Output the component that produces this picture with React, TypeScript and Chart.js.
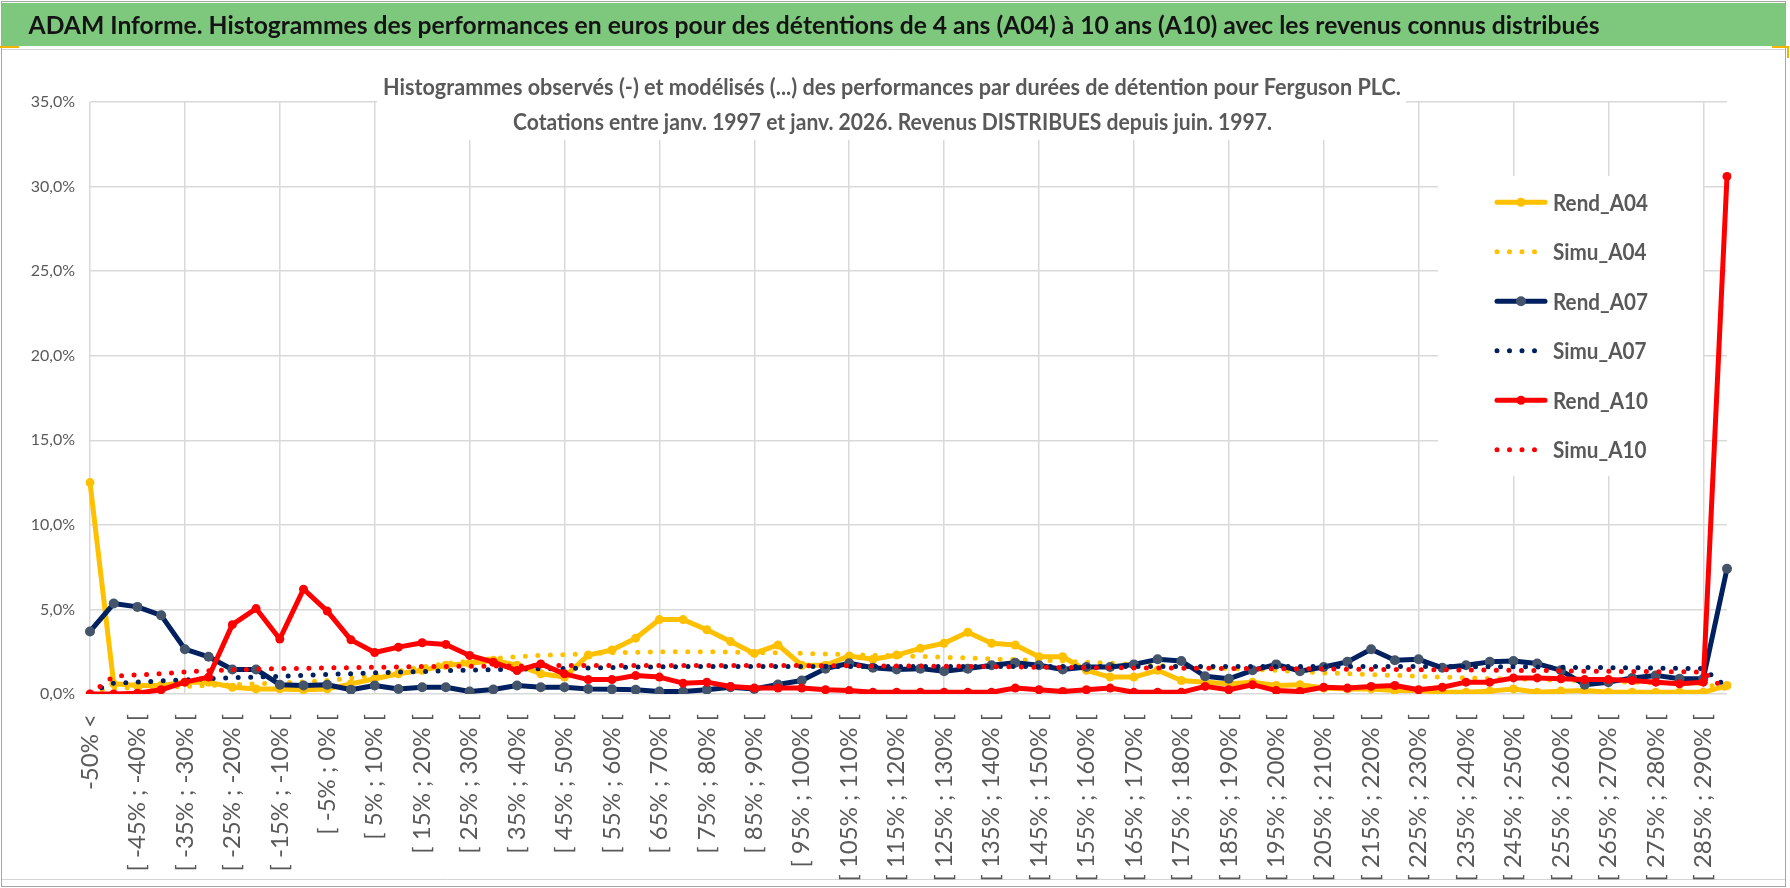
import React, { useEffect, useRef } from 'react';
import { Chart, registerables } from 'chart.js';

Chart.register(...registerables);

const W = 1790;
const H = 888;

const TITLE = 'ADAM Informe. Histogrammes des performances en euros pour des détentions de 4 ans (A04) à 10 ans (A10) avec les revenus connus distribués';
const SUB1 = 'Histogrammes observés (-) et modélisés (...) des performances par durées de détention pour Ferguson PLC.';
const SUB2 = 'Cotations entre janv. 1997 et janv. 2026. Revenus DISTRIBUES depuis juin. 1997.';

const categories: string[] = [
  '-50% <', '[ -50% ; -45% [', '[ -45% ; -40% [', '[ -40% ; -35% [', '[ -35% ; -30% [',
  '[ -30% ; -25% [', '[ -25% ; -20% [', '[ -20% ; -15% [', '[ -15% ; -10% [', '[ -10% ; -5% [',
  '[ -5% ; 0% [', '[ 0% ; 5% [', '[ 5% ; 10% [', '[ 10% ; 15% [', '[ 15% ; 20% [',
  '[ 20% ; 25% [', '[ 25% ; 30% [', '[ 30% ; 35% [', '[ 35% ; 40% [', '[ 40% ; 45% [',
  '[ 45% ; 50% [', '[ 50% ; 55% [', '[ 55% ; 60% [', '[ 60% ; 65% [', '[ 65% ; 70% [',
  '[ 70% ; 75% [', '[ 75% ; 80% [', '[ 80% ; 85% [', '[ 85% ; 90% [', '[ 90% ; 95% [',
  '[ 95% ; 100% [', '[ 100% ; 105% [', '[ 105% ; 110% [', '[ 110% ; 115% [', '[ 115% ; 120% [',
  '[ 120% ; 125% [', '[ 125% ; 130% [', '[ 130% ; 135% [', '[ 135% ; 140% [', '[ 140% ; 145% [',
  '[ 145% ; 150% [', '[ 150% ; 155% [', '[ 155% ; 160% [', '[ 160% ; 165% [', '[ 165% ; 170% [',
  '[ 170% ; 175% [', '[ 175% ; 180% [', '[ 180% ; 185% [', '[ 185% ; 190% [', '[ 190% ; 195% [',
  '[ 195% ; 200% [', '[ 200% ; 205% [', '[ 205% ; 210% [', '[ 210% ; 215% [', '[ 215% ; 220% [',
  '[ 220% ; 225% [', '[ 225% ; 230% [', '[ 230% ; 235% [', '[ 235% ; 240% [', '[ 240% ; 245% [',
  '[ 245% ; 250% [', '[ 250% ; 255% [', '[ 255% ; 260% [', '[ 260% ; 265% [', '[ 265% ; 270% [',
  '[ 270% ; 275% [', '[ 275% ; 280% [', '[ 280% ; 285% [', '[ 285% ; 290% [', '> 290%',
];

const rendA04: number[] = [
  12.5, 0.6, 0.5, 0.5, 0.7, 0.7, 0.4, 0.3, 0.3, 0.25,
  0.3, 0.6, 0.9, 1.2, 1.4, 1.7, 1.8, 2.0, 1.7, 1.2,
  1.0, 2.3, 2.6, 3.3, 4.4, 4.4, 3.8, 3.1, 2.4, 2.9,
  1.7, 1.7, 2.25, 2.05, 2.3, 2.7, 3.0, 3.65, 3.0, 2.9,
  2.2, 2.2, 1.4, 1.0, 1.0, 1.4, 0.8, 0.7, 0.6, 0.7,
  0.5, 0.55, 0.35, 0.3, 0.3, 0.2, 0.2, 0.1, 0.1, 0.17,
  0.3, 0.1, 0.17, 0.2, 0.1, 0.1, 0.1, 0.1, 0.1, 0.5,
];

const simuA04: number[] = [
  0.1, 0.35, 0.35, 0.4, 0.45, 0.5, 0.55, 0.6, 0.65, 0.72,
  0.8, 0.95, 1.1, 1.35, 1.6, 1.8, 1.95, 2.1, 2.2, 2.28,
  2.33, 2.38, 2.43, 2.47, 2.5, 2.5, 2.5, 2.48, 2.45, 2.43,
  2.4, 2.37, 2.33, 2.3, 2.27, 2.22, 2.17, 2.13, 2.08, 2.03,
  2.0, 1.95, 1.88, 1.82, 1.75, 1.68, 1.62, 1.57, 1.52, 1.45,
  1.4, 1.33, 1.25, 1.2, 1.15, 1.1, 1.05, 1.0, 0.95, 0.92,
  0.88, 0.85, 0.8, 0.77, 0.73, 0.7, 0.67, 0.64, 0.6, 0.3,
];

const rendA07: number[] = [
  3.7, 5.35, 5.15, 4.65, 2.65, 2.2, 1.45, 1.45, 0.55, 0.5,
  0.55, 0.25, 0.5, 0.3, 0.4, 0.4, 0.15, 0.27, 0.5, 0.4,
  0.4, 0.3, 0.28, 0.25, 0.15, 0.15, 0.25, 0.4, 0.3, 0.56,
  0.8, 1.5, 1.82, 1.55, 1.45, 1.5, 1.35, 1.5, 1.7, 1.85,
  1.7, 1.45, 1.6, 1.6, 1.75, 2.05, 1.95, 1.05, 0.9, 1.4,
  1.75, 1.35, 1.6, 1.9, 2.65, 2.0, 2.05, 1.55, 1.7, 1.9,
  1.95, 1.8, 1.4, 0.55, 0.7, 0.95, 1.1, 0.9, 0.9, 7.4,
];

const simuA07: number[] = [
  0.1, 0.64, 0.7, 0.78, 0.84, 0.9, 0.96, 1.0, 1.05, 1.1,
  1.16, 1.2, 1.25, 1.29, 1.33, 1.38, 1.41, 1.44, 1.47, 1.49,
  1.51, 1.54, 1.57, 1.59, 1.61, 1.62, 1.62, 1.62, 1.63, 1.63,
  1.63, 1.63, 1.63, 1.63, 1.63, 1.63, 1.63, 1.63, 1.63, 1.63,
  1.63, 1.63, 1.63, 1.63, 1.63, 1.63, 1.63, 1.63, 1.63, 1.63,
  1.63, 1.63, 1.63, 1.63, 1.62, 1.62, 1.62, 1.62, 1.62, 1.61,
  1.61, 1.6, 1.58, 1.57, 1.56, 1.55, 1.53, 1.52, 1.5, 0.4,
];

const rendA10: number[] = [
  0.0, 0.0, 0.05, 0.25, 0.7, 1.0, 4.1, 5.05, 3.25, 6.2,
  4.9, 3.2, 2.45, 2.77, 3.03, 2.93, 2.28, 1.88, 1.39, 1.78,
  1.19, 0.85, 0.85, 1.09, 1.0, 0.64, 0.7, 0.44, 0.35, 0.35,
  0.35, 0.25, 0.2, 0.1, 0.1, 0.1, 0.1, 0.1, 0.1, 0.35,
  0.25, 0.15, 0.25, 0.35, 0.1, 0.1, 0.1, 0.45, 0.25, 0.55,
  0.2, 0.15, 0.4, 0.35, 0.45, 0.5, 0.25, 0.4, 0.7, 0.7,
  0.95, 0.95, 0.9, 0.85, 0.85, 0.8, 0.7, 0.6, 0.7, 30.6,
];

const simuA10: number[] = [
  0.0, 1.05, 1.13, 1.2, 1.3, 1.38, 1.43, 1.47, 1.5, 1.52,
  1.54, 1.56, 1.58, 1.6, 1.62, 1.63, 1.64, 1.65, 1.66, 1.67,
  1.68, 1.68, 1.69, 1.69, 1.69, 1.69, 1.69, 1.69, 1.68, 1.68,
  1.68, 1.67, 1.67, 1.66, 1.66, 1.65, 1.64, 1.63, 1.62, 1.6,
  1.58, 1.57, 1.56, 1.55, 1.54, 1.54, 1.53, 1.52, 1.51, 1.5,
  1.5, 1.49, 1.48, 1.47, 1.46, 1.45, 1.44, 1.43, 1.42, 1.41,
  1.4, 1.39, 1.37, 1.35, 1.34, 1.33, 1.32, 1.31, 1.3, 0.2,
];

const yTicks: number[] = [0, 5, 10, 15, 20, 25, 30, 35];

const YELLOW = '#FFC000';
const NAVY = '#002060';
const NAVY_MARK = '#44546A';
const RED = '#FF0000';
const GRAY_TXT = '#595959';
const GRID = '#d9d9d9';
const DOT_DASH = [0, 12.5];

type Series = { label: string; data: number[]; color: string; dotted: boolean; marker: string; radius: number };

const series: Series[] = [
  { label: 'Rend_A04', data: rendA04, color: YELLOW, dotted: false, marker: YELLOW, radius: 4.5 },
  { label: 'Simu_A04', data: simuA04, color: YELLOW, dotted: true, marker: YELLOW, radius: 0 },
  { label: 'Rend_A07', data: rendA07, color: NAVY, dotted: false, marker: NAVY_MARK, radius: 5 },
  { label: 'Simu_A07', data: simuA07, color: NAVY, dotted: true, marker: NAVY, radius: 0 },
  { label: 'Rend_A10', data: rendA10, color: RED, dotted: false, marker: RED, radius: 4.5 },
  { label: 'Simu_A10', data: simuA10, color: RED, dotted: true, marker: RED, radius: 0 },
];

function measure(ctx: CanvasRenderingContext2D, text: string, font: string): number {
  ctx.save();
  ctx.font = font;
  const w = ctx.measureText(text).width;
  ctx.restore();
  return w;
}

function drawFitted(ctx: CanvasRenderingContext2D, text: string, x: number, y: number, font: string, color: string, sx: number) {
  ctx.save();
  ctx.font = font;
  ctx.fillStyle = color;
  ctx.textAlign = 'left';
  ctx.textBaseline = 'alphabetic';
  ctx.translate(x, y);
  ctx.scale(sx, 1);
  ctx.fillText(text, 0, 0);
  ctx.restore();
}

const decorPlugin = {
  id: 'decor',
  beforeDraw(chart: any) {
    const ctx: CanvasRenderingContext2D = chart.ctx;
    ctx.save();
    ctx.fillStyle = '#ffffff';
    ctx.fillRect(0, 0, W, H);
    ctx.fillStyle = '#7DC87D';
    ctx.fillRect(2, 3, 1783, 43);
    ctx.strokeStyle = '#a6a6a6';
    ctx.lineWidth = 1;
    ctx.strokeRect(1.5, 1.5, 1784, 885);
    ctx.strokeStyle = '#d4d4d4';
    ctx.beginPath();
    ctx.moveTo(2, 49.5); ctx.lineTo(1785, 49.5);
    ctx.moveTo(2, 879.5); ctx.lineTo(1785, 879.5);
    ctx.stroke();
    ctx.strokeStyle = '#F2B400';
    ctx.lineWidth = 2;
    ctx.beginPath();
    ctx.moveTo(0, 47); ctx.lineTo(19, 47);
    ctx.moveTo(1772, 47); ctx.lineTo(1788, 47); ctx.lineTo(1788, 58);
    ctx.stroke();
    ctx.restore();
  },
  beforeDatasetsDraw(chart: any) {
    const ctx: CanvasRenderingContext2D = chart.ctx;
    ctx.save();
    ctx.fillStyle = '#ffffff';
    ctx.fillRect(377, 60, 1029, 80);
    ctx.fillRect(1438, 176, 265, 300);
    ctx.restore();
  },
  afterDraw(chart: any) {
    const ctx: CanvasRenderingContext2D = chart.ctx;
    const titleFont = 'bold 25px Lato';
    drawFitted(ctx, TITLE, 28.5, 33.5, titleFont, '#141414', 1571 / measure(ctx, TITLE, titleFont));

    const subFont = 'bold 23px Lato';
    const w1 = measure(ctx, SUB1, subFont);
    const w2 = measure(ctx, SUB2, subFont);
    drawFitted(ctx, SUB1, 383, 95, subFont, GRAY_TXT, 1018 / w1);
    drawFitted(ctx, SUB2, 513, 130, subFont, GRAY_TXT, 759 / w2);

    const legFont = 'bold 22px Lato';
    const ls = 95 / measure(ctx, 'Rend_A04', legFont);
    series.forEach((s, i) => {
      const base = 210.7 + i * 49.5;
      const ly = base - 8.5;
      ctx.save();
      ctx.strokeStyle = s.color;
      ctx.lineWidth = 5;
      ctx.lineCap = 'round';
      if (s.dotted) {
        ctx.setLineDash(DOT_DASH);
        ctx.beginPath();
        ctx.moveTo(1497, ly);
        ctx.lineTo(1547, ly);
        ctx.stroke();
      } else {
        ctx.beginPath();
        ctx.moveTo(1497, ly);
        ctx.lineTo(1545, ly);
        ctx.stroke();
        ctx.fillStyle = s.marker;
        ctx.beginPath();
        ctx.arc(1521, ly, s.radius, 0, Math.PI * 2);
        ctx.fill();
      }
      ctx.restore();
      drawFitted(ctx, s.label, 1553, base, legFont, GRAY_TXT, ls);
    });
  },
};

export default function App() {
  const ref = useRef<HTMLCanvasElement | null>(null);

  useEffect(() => {
    document.body.style.margin = '0';
    const canvas = ref.current;
    if (!canvas) return;
    const chart = new Chart(canvas, {
      type: 'line',
      data: {
        labels: categories,
        datasets: series.map((s, i) => ({
          label: s.label,
          data: s.data,
          borderColor: s.color,
          backgroundColor: s.color,
          borderWidth: 5,
          borderDash: s.dotted ? DOT_DASH : [],
          borderCapStyle: 'round',
          borderJoinStyle: 'round',
          pointRadius: s.radius,
          pointHoverRadius: s.radius,
          pointBackgroundColor: s.marker,
          pointBorderColor: s.marker,
          pointBorderWidth: 0,
          tension: 0,
          fill: false,
          order: series.length - 1 - i,
        })) as any,
      },
      options: {
        animation: false,
        responsive: false,
        devicePixelRatio: 1,
        events: [],
        layout: { padding: { left: 0, top: 102, right: 63, bottom: 0 } },
        plugins: {
          legend: { display: false },
          title: { display: false },
          tooltip: { enabled: false },
        },
        scales: {
          x: {
            type: 'category',
            offset: false,
            border: { display: false },
            grid: {
              drawTicks: false,
              lineWidth: 1.5,
              color: (c: any) => (c.index % 4 === 0 ? GRID : 'rgba(0,0,0,0)'),
            },
            ticks: {
              autoSkip: false,
              maxRotation: 90,
              minRotation: 90,
              padding: 20,
              color: GRAY_TXT,
              font: { family: 'Lato', size: 24 },
              callback: (_v: any, i: number) => (i % 2 === 0 ? categories[i] : ''),
            },
            afterFit: (s: any) => { s.height = 194; },
          },
          y: {
            min: yTicks[0],
            max: yTicks[yTicks.length - 1],
            border: { display: false },
            grid: { drawTicks: false, lineWidth: 1.5, color: GRID },
            ticks: {
              stepSize: 5,
              padding: 15,
              color: GRAY_TXT,
              font: { family: 'Lato', size: 16 },
              callback: (v: any) => Number(v).toFixed(1).replace('.', ',') + '%',
            },
            afterFit: (s: any) => { s.width = 90; },
          },
        },
      } as any,
      plugins: [decorPlugin as any],
    });
    return () => chart.destroy();
  }, []);

  return (
    <canvas
      ref={ref}
      width={W}
      height={H}
      style={{ display: 'block', width: W + 'px', height: H + 'px' }}
    />
  );
}
